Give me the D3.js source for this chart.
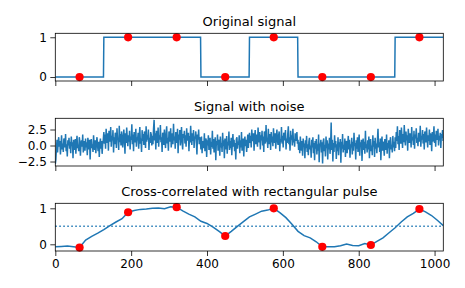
<!DOCTYPE html>
<html>
<head>
<meta charset="utf-8">
<style>
	body { margin: 0; background: #fff; }
	text { font-family: "DejaVu Sans", sans-serif; fill: #000; }
	.line { fill: none; stroke: #1f77b4; stroke-width: 1.5px; }
	.dot { fill: #ff0000; }
</style>
</head>
<body>
<script src="https://d3js.org/d3.v7.min.js"></script>
<script>

	// 8 levels, each held for 128 samples
	var sigLevels = [0, 1, 1, 0, 1, 0, 0, 1];
	var clock = [64, 192, 320, 448, 576, 704, 832, 960];

	// signal + noise, one list per 128-sample block
	var noiseBlocks = [
		[-2.9, -2.2, -0.4, 0.9, -1.1, 0.5, 1.3, -0.2, 0.7, -1.4, 0.1, 1.6, -0.6, 0.3, -1.0, 1.1, 0.4, -0.3, 1.8, -0.9, 0.2, -1.7, 0.8, 0.0, 1.2, -0.5, 0.6, -1.2, 1.4, -0.1, 0.5, -2.0, 0.9, 0.3, -0.7, 1.0, -1.3, 0.4, 1.5, -0.4, 0.1, -0.9, 1.3, 0.6, -1.6, 0.2, 0.8, -0.2, 1.7, -1.1, 0.0, 0.7, -0.8, 1.1, -0.3, 0.5, -1.5, 1.2, 0.3, -0.6, 0.9, -2.2, 0.4, 1.0, -0.4, 0.2, -1.0, 1.6, 0.1, -0.7, 0.8, -1.2, 0.5, 1.3, -0.1, -0.9, 0.6, -1.8, 0.3, 1.1, -0.5, 0.7, -1.3, 0.2, 0.9],
		[2.1, 0.3, 1.7, -0.5, 2.6, 1.0, 0.4, 1.9, -0.8, 2.3, 1.2, 0.6, 2.9, -0.2, 1.5, 0.8, 2.4, -1.1, 1.3, 0.2, 2.0, 1.6, -0.4, 2.7, 0.9, 1.1, -0.7, 3.1, 0.5, 1.8, 0.0, 2.2, 1.4, -0.3, 1.0, 2.5, 0.7, -1.3, 1.9, 0.4, 2.8, 1.2, -0.1, 1.6, 0.6, 2.3, -0.6, 1.4, 0.9, 3.3, 0.2, 1.7, -0.9, 2.1, 1.0, 0.5, 2.6, -0.2, 1.3, 0.8, 2.0, -0.5, 1.5, 2.9, 0.3, 1.1, -1.0, 2.4, 0.7, 1.8, 0.1, 2.2, 1.3, -0.4, 3.0, 0.6, 1.6, 0.9, 2.5, -0.7, 1.2, 0.4, 2.1, 1.7, 0.0],
		[1.5, 0.2, 2.6, 4.0, 0.8, 1.9, -0.6, 2.3, 1.1, 0.4, 2.8, -0.2, 1.6, 0.9, 3.2, 0.5, 1.3, -1.0, 2.0, 1.7, 0.1, 2.5, 0.7, -0.4, 1.8, 3.0, 0.3, 1.2, -0.8, 2.2, 1.5, 0.6, 2.7, -0.3, 1.0, 1.9, 0.2, 3.4, 0.8, 1.4, -0.5, 2.1, 1.1, 0.4, 2.6, -1.2, 1.7, 0.9, 2.4, 0.0, 1.3, 2.9, 0.6, -0.6, 1.8, 1.2, 2.3, 0.3, 1.6, -0.2, 2.7, 0.8, 1.0, 2.0, -0.9, 1.5, 0.5, 3.1, 1.2, 0.1, 1.9, 0.7, 2.4, -0.4, 1.4, 1.1, 2.2, 0.4, -1.4, 1.7, 0.9, 2.5, 0.2, 1.3, 0.6],
		[-0.6, 1.4, -1.2, 0.7, 0.3, -0.4, 1.9, -0.9, 0.5, 1.1, -1.8, 0.8, 0.0, 1.6, -0.7, 0.4, 1.2, -1.4, 0.6, -0.2, 2.3, -0.5, 1.0, -1.1, 0.2, 1.3, -2.3, 0.7, 0.1, 1.7, -0.8, 0.9, 0.5, -1.6, 1.4, -0.3, 0.4, -1.0, 2.0, -0.1, 0.8, -2.0, 1.1, 0.3, -0.6, 1.5, -1.3, 0.6, 0.0, 2.2, -0.7, 0.7, -0.4, 1.2, -1.5, 0.5, 1.8, -0.2, 0.9, -0.9, 0.4, -2.2, 1.0, 1.3, -0.5, 0.6, 0.1, 1.6, -1.2, 0.8, -0.3, 2.1, -0.8, 0.2, 1.1, -1.7, 0.7, 1.4, -0.1, 0.9, -1.0, 0.5, 1.7, -0.4, 1.0],
		[2.0, 0.4, 1.5, -0.3, 2.5, 1.1, 0.7, 1.9, -0.8, 1.3, 2.4, 0.2, 1.7, 0.9, -0.2, 2.8, 1.2, 0.5, 2.1, -0.6, 1.6, 0.8, 2.3, 0.0, 1.4, -1.0, 2.2, 1.0, 0.3, 3.2, 0.6, 1.2, -0.4, 2.6, 0.9, 0.2, 1.8, -0.7, 2.1, 0.5, 1.4, -0.1, 2.7, 1.1, 0.4, 1.9, -0.5, 1.3, 2.5, 0.7, 0.1, 1.6, 2.2, -0.9, 1.0, 0.6, 2.9, 0.3, 1.5, -0.3, 2.0, 1.2, 0.8, 2.4, -0.6, 1.1, 0.4, 1.8, 3.0, 0.2, 1.3, -0.8, 2.3, 0.9, 1.6, 0.0, 2.6, 0.5, 1.0, -0.2, 1.9, 1.4, 0.7, 2.1, 0.3],
		[0.9, -0.7, 0.5, -1.2, 1.4, 0.1, -0.8, 0.7, -1.6, 1.1, -0.2, 0.3, -2.0, 0.8, -0.4, 1.5, -1.0, 0.2, -1.5, 0.6, 1.2, -0.6, 0.0, -1.9, 0.9, -0.3, 1.3, -1.2, 0.4, -2.3, 0.7, -0.5, 1.0, -1.4, 0.2, -0.8, 1.7, -2.6, 0.3, -0.1, 0.9, -1.1, 0.5, -2.8, 0.6, 1.1, -0.9, 0.1, -1.7, 1.4, -0.4, 0.8, -2.2, 0.3, -0.6, 1.2, -1.3, 0.0, 3.6, -0.7, 0.9, -2.5, 0.4, -1.0, 1.6, -0.3, 0.7, -2.1, 0.2, -0.9, 1.3, -1.5, 0.5, -0.2, 1.0, -2.7, 0.6, -0.5, 1.8, -1.1, 0.1, -0.7, 1.1, -1.8, 0.4],
		[0.7, -1.2, 0.3, 1.5, -0.6, 0.9, -1.9, 0.2, -0.3, 1.2, -1.4, 0.6, -0.8, 2.0, -0.1, 0.4, -2.2, 0.8, -0.5, 1.3, -1.0, 0.1, 1.7, -1.6, 0.5, -0.2, 0.9, -2.4, 0.3, 1.1, -0.7, 0.6, -1.3, 2.3, -0.4, 0.2, -1.1, 0.8, -0.6, 1.4, -2.0, 0.4, 1.0, -0.9, 0.0, -1.5, 1.6, -0.2, 0.7, -1.8, 1.2, -0.5, 0.3, -1.2, 0.9, 2.6, -0.3, 0.5, -1.0, 1.1, -2.3, 0.2, 1.4, -0.8, 0.6, -0.1, -1.6, 1.0, 0.3, -0.7, 1.7, -1.3, 0.4, -0.4, 0.8, -2.0, 0.5, 1.3, -0.6, 0.1, -1.1, 1.5, -0.3, 0.6, -0.9],
		[1.3, -0.4, 2.1, 0.7, 3.0, 0.2, 1.5, -0.7, 2.4, 1.1, 0.3, 2.8, 1.4, -0.4, 1.8, 0.5, 3.2, 1.0, 0.0, 2.2, 0.8, 1.6, -0.8, 2.6, 1.3, 0.4, 1.9, 1.5, -0.3, 2.9, 0.8, 1.3, 0.1, 2.3, -0.5, 1.7, 1.1, 2.7, 0.4, 1.2, -0.1, 2.0, 1.4, 0.6, 3.1, -0.2, 1.5, 0.9, 2.4, 0.3, 1.8, -0.6, 2.2, 1.0, 0.5, 2.8, 1.2, -0.3, 1.6, 0.7, 2.5, 0.1, 1.9, 1.3, -0.9, 2.1, 0.6, 1.4, 3.0, 0.4, 1.7, -0.2, 2.3, 0.9, 1.1, 2.6, 0.0, 1.5, 0.8, 2.0, -0.4, 1.8, 1.2, 2.4, 0.7]
	];

	// cross-correlation, one value every 16 samples (last one at 1023)
	var corr = [
		-0.07, -0.06, -0.05, -0.07, -0.09, 0.12, 0.22, 0.31, 0.41, 0.52, 0.62, 0.71, 0.89, 0.94, 0.97, 0.98,
		1.0, 1.01, 0.99, 1.04, 1.03, 0.93, 0.84, 0.76, 0.64, 0.58, 0.48, 0.36, 0.23, 0.36, 0.50, 0.63,
		0.76, 0.84, 0.92, 0.95, 1.0, 0.88, 0.74, 0.56, 0.36, 0.24, 0.18, 0.07, -0.07, -0.07, -0.07, -0.04,
		0.01, -0.03, -0.04, 0.02, -0.02, 0.08, 0.18, 0.32, 0.46, 0.62, 0.76, 0.86, 0.98, 0.9, 0.8, 0.66,
		0.52
	];

	var xTicks = [0, 200, 400, 600, 800, 1000];

	var W = 465, H = 288;
	var left = 55.3, right = 443.3, axH = 47.7;
	var tops = [33.3, 118.3, 203.3];
	var titles = ["Original signal", "Signal with noise", "Cross-correlated with rectangular pulse"];
	var yDomains = [[-0.1, 1.1], [-3.2, 4.25], [-0.186, 1.139]];
	var yTicks = [[0, 1], [-2.5, 0, 2.5], [0, 1]];
	var yFmt = [d3.format("d"), d3.format(".1f"), d3.format("d")];

	var svg = d3.select("body").append("svg")
		.attr("width", W)
		.attr("height", H);

	var x = d3.scaleLinear().domain([0, 1023]).range([left, right]);

	var sigPts = [];
	sigLevels.forEach(function(v, k) {
		sigPts.push([k * 128, v]);
		sigPts.push([k * 128 + 127, v]);
	});
	var noisePts = [];
	noiseBlocks.forEach(function(b, k) {
		b.forEach(function(v, j) { noisePts.push([k * 128 + j * 128 / b.length, v]); });
	});
	var corrPts = corr.map(function(v, i) { return [Math.min(i * 16, 1023), v]; });

	var series = [
		{ pts: sigPts, dots: clock.map(function(c) { return [c, sigLevels[Math.floor(c / 128)]]; }) },
		{ pts: noisePts, dots: [] },
		{ pts: corrPts, dots: clock.map(function(c) { return [c, corr[c / 16]]; }) }
	];

	tops.forEach(function(top, p) {
		var y = d3.scaleLinear().domain(yDomains[p]).range([top + axH, top]);
		var g = svg.append("g");

		g.append("clipPath").attr("id", "clip" + p)
			.append("rect")
			.attr("x", left).attr("y", top)
			.attr("width", right - left).attr("height", axH);

		var line = d3.line()
			.x(function(d) { return x(d[0]); })
			.y(function(d) { return y(d[1]); });

		if (p == 2) {
			g.append("line")
				.attr("x1", left).attr("x2", right)
				.attr("y1", y(0.5)).attr("y2", y(0.5))
				.attr("stroke", "#1f77b4")
				.attr("stroke-width", 1.5)
				.attr("stroke-dasharray", "1.5,2.5");
		}

		g.append("path")
			.datum(series[p].pts)
			.attr("class", "line")
			.attr("clip-path", "url(#clip" + p + ")")
			.attr("d", line);

		g.selectAll(".dot")
			.data(series[p].dots)
			.enter().append("circle")
			.attr("class", "dot")
			.attr("r", 4.1)
			.attr("cx", function(d) { return x(d[0]); })
			.attr("cy", function(d) { return y(d[1]); });

		var xAxis = d3.axisBottom(x).tickValues(xTicks).tickFormat(d3.format("d")).tickSize(5).tickPadding(3.5);
		if (p < 2) xAxis.tickFormat("");
		var gx = g.append("g")
			.attr("transform", "translate(0," + (top + axH) + ")")
			.call(xAxis);

		var gy = g.append("g")
			.attr("transform", "translate(" + left + ",0)")
			.call(d3.axisLeft(y).tickValues(yTicks[p]).tickFormat(yFmt[p]).tickSize(5).tickPadding(3.5));

		[gx, gy].forEach(function(a) {
			a.select(".domain").remove();
			a.selectAll("line").attr("stroke", "#000").attr("stroke-width", 0.8);
			a.selectAll("text").attr("font-size", "12px").attr("font-family", "DejaVu Sans");
		});

		g.append("rect")
			.attr("x", left).attr("y", top)
			.attr("width", right - left).attr("height", axH)
			.attr("fill", "none")
			.attr("stroke", "#000")
			.attr("stroke-width", 0.8);

		g.append("text")
			.attr("x", (left + right) / 2)
			.attr("y", top - 7.5)
			.attr("text-anchor", "middle")
			.attr("font-size", "13px")
			.text(titles[p]);
	});

</script>
</body>
</html>
